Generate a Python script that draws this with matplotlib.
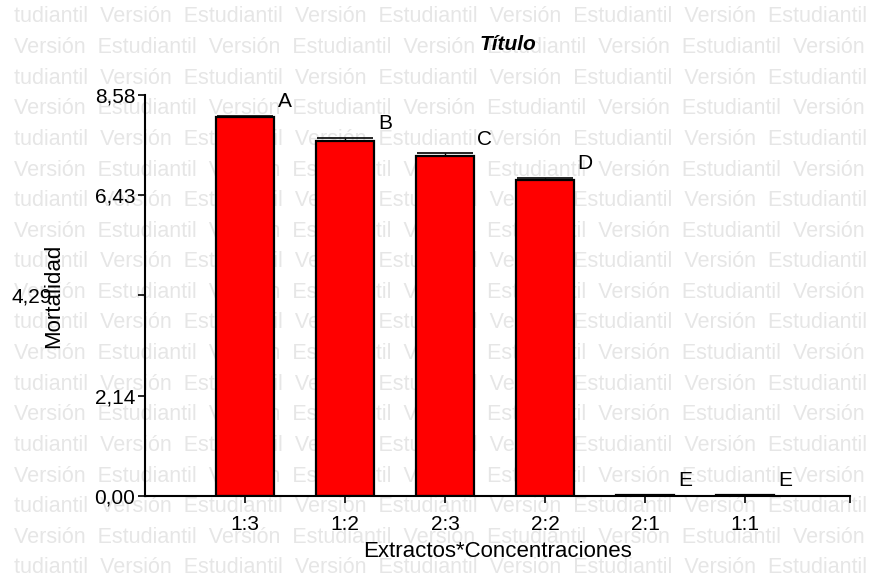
import matplotlib.pyplot as plt

plt.rcParams["font.family"] = ["Liberation Sans", "DejaVu Sans"]

categories = ["1:3", "1:2", "2:3", "2:2", "2:1", "1:1"]
mortalidad = [8.11, 7.60, 7.27, 6.76, 0.03, 0.03]
errores = [0.03, 0.07, 0.06, 0.05, 0.0, 0.0]
letras = ["A", "B", "C", "D", "E", "E"]
yticks = [0.0, 2.145, 4.29, 6.435, 8.58]
ytick_labels = ["0,00", "2,14", "4,29", "6,43", "8,58"]

fig = plt.figure(figsize=(8.82, 5.81), dpi=100)
ax = fig.add_axes([0.1644, 0.1463, 0.7993, 0.6902])
ax.set_facecolor("none")

# watermark rows behind the chart
wm_color = "#e6e6e6"
row_text = {0: "tudiantil  Versión  Estudiantil  Versión  Estudiantil  Versión  Estudiantil  Versión  Estudiantil",
            1: "Versión  Estudiantil  Versión  Estudiantil  Versión  Estudiantil  Versión  Estudiantil  Versión"}
for k in range(19):
    y = 1 - (17 + 30.6 * k) / 581
    fig.text(14 / 882, y, row_text[k % 2], color=wm_color, fontsize=15.5,
             va="center", ha="left", zorder=-1)

x = list(range(len(categories)))
bars = ax.bar(x, mortalidad, width=0.58, color="#ff0000", edgecolor="black",
              linewidth=1.6, zorder=2)
ax.errorbar(x, mortalidad, yerr=[[0] * len(errores), errores], fmt="none",
            ecolor="black", elinewidth=1, capsize=20, capthick=1.2, zorder=3)

for i, (h, e, l) in enumerate(zip(mortalidad, errores, letras)):
    ax.text(i + 0.40, h + e + 0.30, l, fontsize=15, ha="center", va="center",
            zorder=5)

ax.set_xlim(-1, 6.05)
ax.set_ylim(0, 8.58)
ax.set_xticks(x + [6.05])
ax.set_xticklabels(categories + [""], fontsize=15)
ax.set_yticks(yticks)
ax.set_yticklabels(ytick_labels, fontsize=15)
ax.tick_params(axis="y", length=5, width=1.2, pad=2)
ax.tick_params(axis="x", length=5, width=1.2, pad=9)
ax.yaxis.get_major_ticks()[2].set_pad(62)
ax.spines["top"].set_visible(False)
ax.spines["right"].set_visible(False)
ax.spines["left"].set_linewidth(1.5)
ax.spines["bottom"].set_linewidth(1.5)

ax.set_xlabel("Extractos*Concentraciones", fontsize=16, labelpad=5)
ax.set_ylabel("Mortalidad", fontsize=16)
ax.yaxis.set_label_coords(-0.115, 0.5)
fig.text(508 / 882, 1 - 45 / 581, "Título", fontsize=15, fontweight="bold",
         fontstyle="italic", ha="center", va="center")

fig.savefig("out.png", dpi=100)
